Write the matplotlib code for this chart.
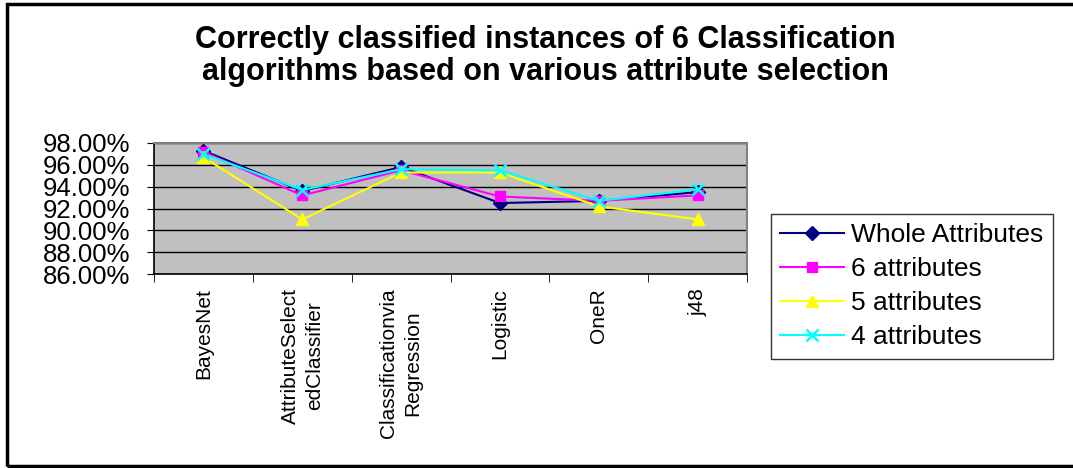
import numpy as np
import matplotlib
matplotlib.use("Agg")
import matplotlib.pyplot as plt
from matplotlib.patches import Rectangle
from matplotlib.ticker import FixedLocator, PercentFormatter

plt.rcParams['font.family'] = ['Liberation Sans', 'DejaVu Sans']

categories = ["BayesNet", "AttributeSelect\nedClassifier", "Classificationvia\nRegression",
              "Logistic", "OneR", "j48"]
whole_attr = [97.3, 93.6, 95.8, 92.5, 92.7, 93.5]
attr_6 = [97.2, 93.2, 95.5, 93.1, 92.7, 93.2]
attr_5 = [96.7, 91.0, 95.3, 95.3, 92.2, 91.0]
attr_4 = [97.0, 93.7, 95.6, 95.5, 92.7, 93.75]

fig = plt.figure(figsize=(10.73, 4.68), dpi=100)
ax = fig.add_axes([154 / 1073, 1 - 274 / 468, 593 / 1073, 131 / 468])

x = np.arange(len(categories))
ax.plot(x, whole_attr, color='#000080', marker='D', ms=7, lw=1.5, label='Whole Attributes')
ax.plot(x, attr_6, color='#FF00FF', marker='s', ms=7, lw=1.5, label='6 attributes')
ax.plot(x, attr_5, color='#FFFF00', marker='^', ms=9, lw=1.5, label='5 attributes')
ax.plot(x, attr_4, color='#00FFFF', marker='x', ms=9, mew=1.8, lw=1.5, label='4 attributes')

ax.set_facecolor('#C0C0C0')
ax.set_xlim(-0.5, len(categories) - 0.5)
ax.set_ylim(86, 98)
ax.set_yticks(np.arange(86, 98.1, 2))
ax.yaxis.set_major_formatter(PercentFormatter(decimals=2))
ax.grid(axis='y', color='black', lw=1)
ax.set_axisbelow(True)

ax.set_xticks(x)
ax.set_xticklabels(categories, rotation=90, fontsize=15, va='top', ha='center',
                   multialignment='center', linespacing=1.35)
ax.tick_params(axis='x', length=0, pad=10)
ax.xaxis.set_minor_locator(FixedLocator(np.arange(-0.5, len(categories), 1)))
ax.tick_params(axis='x', which='minor', length=6, direction='out', color='black')
ax.tick_params(axis='y', labelsize=18.5, length=5, direction='out', pad=12)

for side in ['top', 'right']:
    ax.spines[side].set_color('#808080')
    ax.spines[side].set_linewidth(1.5)
for side in ['left', 'bottom']:
    ax.spines[side].set_color('black')
    ax.spines[side].set_linewidth(1.2)

fig.text(545 / 1073, 1 - 56 / 468,
         "Correctly classified instances of 6 Classification\nalgorithms based on various attribute selection",
         ha='center', va='center', fontsize=22, fontweight='bold', linespacing=1.08)

leg = ax.legend(loc='upper left', bbox_to_anchor=(771 / 1073, 1 - 214 / 468),
                bbox_transform=fig.transFigure, fontsize=19, frameon=True,
                fancybox=False, edgecolor='black', borderpad=0.35, labelspacing=0.38,
                handlelength=2.4, handletextpad=0.3, borderaxespad=0)
leg.get_frame().set_linewidth(1.0)

fig.patches.append(Rectangle((7 / 1073, 2 / 468), 1.1, 1 - 6 / 468, transform=fig.transFigure,
                             fill=False, edgecolor='black', lw=2.5))

fig.savefig('out.png', dpi=100)
